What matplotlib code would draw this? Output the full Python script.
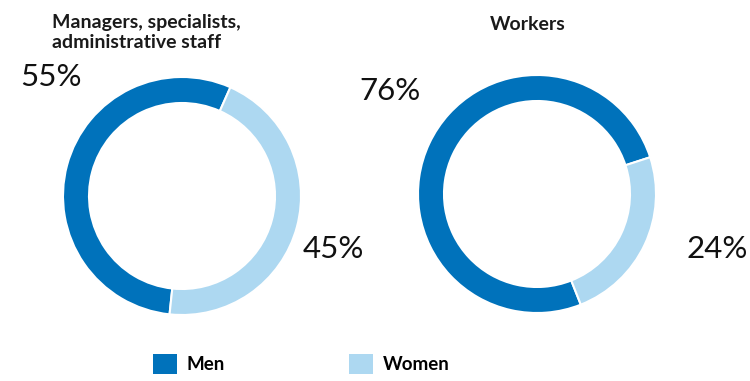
import matplotlib
matplotlib.use("Agg")
import matplotlib.pyplot as plt
from matplotlib.patches import Patch

plt.rcParams['font.family'] = ['Lato', 'DejaVu Sans']

# Data
groups = ["Managers, specialists,\nadministrative staff", "Workers"]
categories = ["Men", "Women"]
men_share = [55, 76]
women_share = [45, 24]

colors = ["#0072BB", "#ADD8F1"]

W, H = 750, 381
fig = plt.figure(figsize=(W / 100, H / 100), dpi=100)
ax = fig.add_axes([0, 0, 1, 1])

def py(y):
    return H - y

centers = [(182, py(196)), (537, py(194))]
radius = 119
startangles = [66, 18]

for i in range(2):
    ax.pie([men_share[i], women_share[i]], colors=colors, center=centers[i],
           radius=radius, startangle=startangles[i], counterclock=True,
           wedgeprops=dict(width=26, edgecolor="white", linewidth=1.5))

ax.set_xlim(0, W)
ax.set_ylim(0, H)
ax.set_aspect('equal')
ax.axis('off')

# Titles
title_kw = dict(fontsize=14, fontweight='bold', color='#1a1a1a', va='baseline')
lines = groups[0].split("\n")
ax.text(52, py(27.7), lines[0], ha='left', **title_kw)
ax.text(52, py(48.3), lines[1], ha='left', **title_kw)
ax.text(528, py(30), groups[1], ha='center', **title_kw)

# Percent labels
pct_kw = dict(fontsize=22.5, color='#111111', va='center')
ax.text(20, py(77), f"{men_share[0]}%", ha='left', **pct_kw)
ax.text(303, py(249), f"{women_share[0]}%", ha='left', **pct_kw)
ax.text(359, py(91), f"{men_share[1]}%", ha='left', **pct_kw)
ax.text(686, py(249), f"{women_share[1]}%", ha='left', **pct_kw)

handles = [Patch(facecolor=colors[0], label=categories[0]),
           Patch(facecolor=colors[1], label=categories[1])]
leg = fig.legend(handles=handles, loc='center left',
                 bbox_to_anchor=(153 / W, 1 - 364 / H), ncol=2, frameon=False,
                 prop=dict(family=['Lato', 'DejaVu Sans'], weight='bold', size=13.5),
                 handlelength=1.28, handleheight=1.28, handletextpad=0.53,
                 columnspacing=6.6, borderpad=0, borderaxespad=0)

fig.savefig("out.png", dpi=100)
